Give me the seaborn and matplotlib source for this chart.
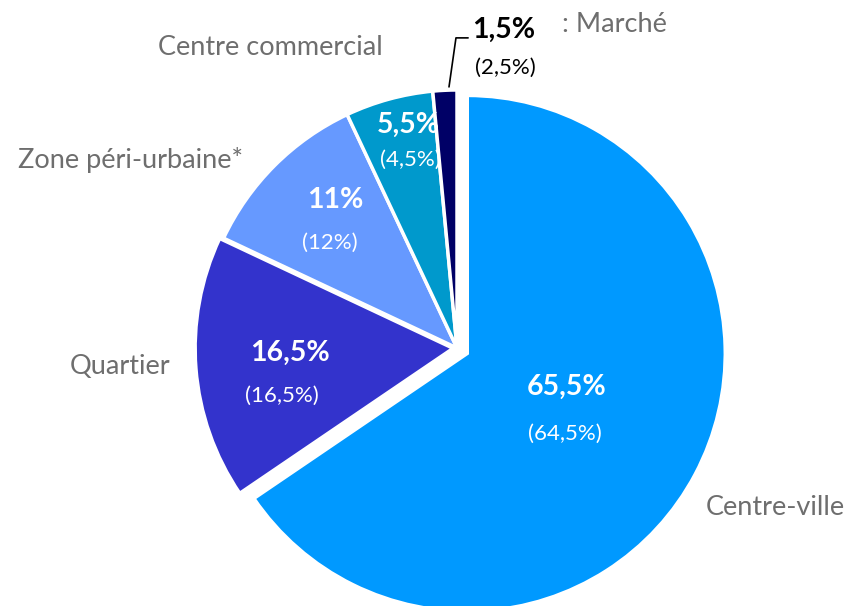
import matplotlib
matplotlib.use("Agg")
import matplotlib.pyplot as plt
import seaborn as sns

# ===================== data =====================
categories = ["Centre-ville", "Quartier", "Zone péri-urbaine*", "Centre commercial", "Marché"]
values = [65.5, 16.5, 11, 5.5, 1.5]
value_labels = ["65,5%", "16,5%", "11%", "5,5%", "1,5%"]
previous_labels = ["(64,5%)", "(16,5%)", "(12%)", "(4,5%)", "(2,5%)"]
colors = ["#0099FF", "#3333CC", "#6699FF", "#0099CC", "#000066"]

# ===================== layout =====================
explode = [0.045, 0.015, 0, 0, 0]
value_pos = [(0.426, -0.151), (-0.647, -0.019), (-0.473, 0.574), (-0.190, 0.864), (0.182, 1.233)]
prev_pos = [(0.419, -0.333), (-0.678, -0.186), (-0.492, 0.407), (-0.182, 0.729), (0.186, 1.085)]
cat_pos = [(1.233, -0.620), (-1.306, -0.070), (-1.267, 0.729), (-0.725, 1.163), (0.407, 1.252)]
GREY = "#6E6E6E"

sns.set_theme(style="white")
plt.rcParams["font.family"] = ["Lato", "DejaVu Sans"]

fig = plt.figure(figsize=(8.47, 6.06), dpi=100)
ax = fig.add_axes([0, 0, 1, 1])

wedges, _ = ax.pie(
    values,
    colors=colors,
    startangle=90,
    counterclock=False,
    explode=explode,
    radius=1,
    wedgeprops=dict(edgecolor="white", linewidth=2.5),
)

ax.set_xlim(-457 / 258, (847 - 457) / 258)
ax.set_ylim(-(606 - 348) / 258, 348 / 258)
ax.set_aspect("auto")
ax.axis("off")

# ---- labels ----
for i in range(len(values)):
    inside = i < 4
    col = "white" if inside else "black"
    ax.text(*value_pos[i], value_labels[i], ha="center", va="center",
            fontsize=20.5, fontweight="bold", color=col)
    ax.text(*prev_pos[i], previous_labels[i], ha="center", va="center",
            fontsize=16, color=col)

for i, name in enumerate(categories):
    if name == "Marché":
        ax.text(*cat_pos[i], ": " + name, ha="left", va="center", fontsize=19.5, color=GREY)
    else:
        ax.text(*cat_pos[i], name, ha="center", va="center", fontsize=19.5, color=GREY)

# leader line for the small slice
ax.plot([-0.031, -0.004, 0.043], [1.012, 1.202, 1.202], color="black", lw=1.2)

fig.savefig("out.png", dpi=100)
